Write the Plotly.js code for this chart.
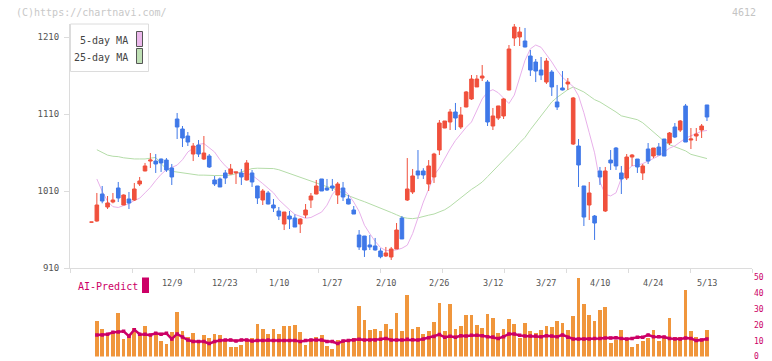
<!DOCTYPE html>
<html><head><meta charset="utf-8">
<script src="https://cdn.plot.ly/plotly-3.0.1.min.js"></script>
<style>html,body{margin:0;padding:0;background:#fff;}#chart{width:772px;height:361px;}</style>
</head><body><div id="chart"></div>
<script>
// ---- data ----
const openP  = [970,971.4,1006.5,989.6,996.1,1014.3,992.2,1000.0,998.7,1019.5,1036.4,1049.3,1049.3,1051.9,1050.6,1040.3,1103.9,1090.9,1081.8,1058.4,1070.1,1051.9,1055.8,1024.7,1026.0,1033.8,1032.5,1034.0,1033.8,1024.7,1033.8,1016.9,998.7,1007.8,992.2,984.4,967.5,977.9,975.3,967.5,979.2,998.7,1006.5,1026.0,1014.3,1016.9,1005.2,1014.3,1000.0,985.7,953.2,951.9,940.3,939.0,932.5,926.0,924.7,935.1,975.3,998.7,1009.1,1036.4,1036.4,1019.5,1028.6,1063.6,1092.2,1100.0,1113.0,1093.5,1119.5,1129.9,1145.5,1157.1,1151.9,1094.8,1105.2,1107.8,1141.6,1209.1,1210.4,1205.2,1185.7,1177.9,1167.5,1151.9,1164.9,1126.0,1144.2,1149.4,1071.4,1068.8,1016.9,992.2,977.9,1036.4,984.4,1050.6,1066.2,1033.8,1027.3,1054.5,1051.9,1033.8,1064.9,1055.8,1067.5,1077.9,1072.7,1093.5,1089.6,1120.8,1076.6,1081.8,1089.6,1122.1];
const highP  = [970,1007.8,1016.9,1003.9,1007.8,1022.1,1006.0,1009.1,1020.8,1028.6,1046.8,1059.7,1058.4,1052.5,1053.2,1045.5,1111.7,1094.8,1087.0,1072.7,1076.6,1081.8,1058.4,1029.9,1028.0,1037.7,1045.5,1035.1,1039.0,1050.6,1037.7,1017.0,1013.0,1010.4,1000.0,989.6,983.1,984.4,980.0,975.0,993.5,1007.8,1024.7,1026.0,1026.0,1026.0,1022.1,1022.1,1005.2,990.9,959.7,952.0,953.2,949.4,936.0,937.7,937.7,968.8,977.9,1053.2,1039.0,1063.6,1040.0,1050.6,1060.0,1102.6,1101.3,1116.9,1124.7,1119.5,1140.3,1161.0,1161.0,1174.0,1154.5,1118.2,1121.0,1131.0,1200.0,1227.3,1223.4,1222.1,1193.5,1181.8,1184.4,1183.1,1167.5,1148.1,1166.2,1157.1,1132.5,1077.9,1017.0,1022.1,979.2,1041.6,1041.6,1063.6,1067.5,1042.9,1058.4,1058.4,1051.9,1045.5,1072.7,1066.2,1072.7,1078.0,1087.0,1098.7,1102.6,1123.4,1092.2,1092.2,1097.4,1122.1];
const lowP   = [970,970.5,994.4,987.0,994.4,996.1,992.2,987.0,997.4,1016.9,1036.0,1040.3,1033.8,1035.1,1035.1,1018.2,1077.9,1067.5,1068.8,1049.3,1054.5,1050.6,1040.3,1016.9,1015.6,1019.5,1032.0,1019.5,1018.2,1024.0,1015.6,993.5,992.2,993.0,983.1,972.7,959.7,961.0,963.6,955.8,975.3,988.3,1006.0,1010.4,1010.4,1010.4,993.5,997.4,993.0,980.5,933.8,924.7,933.8,933.0,923.0,924.7,920.8,935.0,948.0,997.4,1006.5,1026.0,1026.0,1010.4,1020.8,1057.1,1092.0,1089.6,1089.6,1090.9,1119.0,1128.6,1145.5,1153.2,1094.8,1089.6,1102.6,1103.9,1141.0,1198.7,1198.7,1197.0,1159.7,1151.9,1154.5,1149.4,1133.8,1115.6,1141.0,1141.6,1070.1,1015.6,964.9,972.7,946.8,1018.2,983.1,1037.7,1037.7,1006.5,1024.7,1042.9,1033.8,1024.7,1045.5,1053.2,1057.1,1055.8,1070.1,1079.2,1087.0,1074.0,1064.9,1075.3,1079.2,1101.3];
const closeP = [970,992.2,997.4,994.8,998.7,1001.3,1005.2,994.8,1013.0,1023.4,1042.9,1050.6,1045.5,1046.8,1037.7,1028.6,1093.5,1079.2,1074.0,1068.8,1058.4,1059.7,1041.6,1019.5,1015.6,1027.3,1039.0,1035.1,1028.6,1046.8,1022.1,1001.3,1010.4,993.5,988.3,977.9,983.1,974.0,963.6,974.0,985.7,1003.9,1016.9,1010.4,1011.7,1014.3,1019.5,1002.6,993.5,980.5,937.7,933.8,937.7,933.8,925.0,929.9,935.1,959.7,948.1,1013.0,1029.9,1031.2,1031.2,1042.9,1058.4,1098.7,1101.3,1113.0,1105.2,1109.1,1139.0,1155.8,1155.8,1159.7,1100.0,1107.8,1120.8,1129.9,1194.8,1223.4,1216.9,1197.4,1167.5,1166.2,1161.0,1179.2,1145.5,1119.5,1141.6,1151.9,1131.2,1044.2,976.6,1007.8,968.8,1028.6,1036.4,1046.8,1042.9,1026.0,1054.5,1057.1,1041.6,1042.9,1049.3,1066.2,1057.1,1055.8,1085.7,1080.5,1101.3,1074.0,1077.9,1084.4,1094.8,1106.5];
// moving averages, from day 1 onward
const ma5  = [1026,1010,997,990,989,991,994,998,1001,1008,1015,1024,1032,1038,1041,1044,1051,1061,1066,1071,1072,1067,1061,1051,1043,1037,1034,1033,1033,1031,1026,1020,1014,1008,999,992,986,980,977,975,976,979,983,992,1006,1014,1012,1006,996,984,966,955,945,937,933,933,934,936,940,955,976,996,1013,1031,1040,1053,1065,1076,1085,1093,1100,1115,1130,1139,1142,1138,1131,1124,1135,1157,1180,1195,1200,1197,1188,1178,1167,1158,1152,1146,1134,1112,1086,1060,1022,1006,1004,1008,1027,1037,1043,1044,1046,1049,1052,1056,1061,1066,1069,1074,1079,1082,1085,1088,1089];
const ma25 = [1064,1060,1057,1055.5,1055,1053.5,1052.5,1052,1052,1052,1053,1054,1046,1039,1036,1035,1033.5,1032.5,1031.5,1031,1031,1030.5,1030.5,1030.5,1030.5,1031,1033,1035.5,1038,1039.5,1040,1040,1040,1039.5,1038,1035.5,1033.5,1030,1028.5,1026,1023.5,1021,1018,1016,1014,1011.5,1007,1004,1001.5,999,996.5,993.5,991,988.5,985.5,982.5,979.5,976.5,975,974.5,975.5,977.5,979,980.5,983,986,990.5,996,1002,1008,1012.5,1017,1022,1029,1036,1044,1050,1057,1065,1073,1080,1090,1099,1108,1118,1126,1132,1137,1142,1145.5,1142,1139,1134,1129,1126,1122,1118,1113,1108,1106,1104.5,1103,1099,1093,1088,1082,1075,1070.5,1067.5,1065,1062.5,1058,1056.5,1055,1052.5];
// volume and AI-Predict, from day 1 onward
const volume = [22.5,17.4,14.1,14.9,27.7,11.1,13.7,18.1,14.1,19.3,14.1,14.1,10.1,8.0,15.7,28.1,16.2,12.2,14.9,9.7,13.7,11.8,14.3,13.7,10.1,6.1,6.1,7.6,9.7,11.8,20.6,17.4,14.3,17.4,14.3,19.3,19.3,20.0,15.7,7.4,9.7,12.2,13.7,6.9,4.8,10.5,10.1,10.5,11.8,31.9,23.1,16.8,17.4,16.4,20.6,17.2,27.7,16.4,38.9,17.4,18.5,14.3,16.2,22.0,34.0,16.4,33.2,17.4,19.3,26.3,26.3,20.0,18.1,26.9,24.4,14.9,17.4,23.7,20.6,11.8,21.2,16.2,14.9,16.8,19.3,18.7,22.5,21.2,16.8,25.6,49.6,33.4,26.3,22.5,29.4,31.3,8.6,10.5,16.8,11.1,6.1,8.0,9.9,11.8,16.8,9.9,11.8,24.4,12.4,12.4,42.0,16.2,12.4,10.5,16.8];
const aiPredict = [13.7,13.7,14.1,15.3,15.5,16.0,12.9,17.0,14.1,14.1,13.7,14.7,14.1,14.7,11.1,14.3,12.4,10.5,9.5,9.5,9.5,8.2,9.5,10.1,10.5,10.5,9.9,10.5,10.5,9.9,10.1,10.1,10.5,10.1,10.1,10.1,10.1,10.1,9.5,10.1,10.5,10.5,10.5,9.5,9.5,8.2,9.9,10.1,10.5,10.9,10.5,10.5,10.5,10.9,11.5,10.5,10.5,10.5,10.9,10.7,10.5,11.1,11.9,12.7,13.9,12.2,12.8,12.2,13.2,13.0,13.4,13.4,13.2,12.6,12.4,11.4,12.6,14.3,14.3,13.4,13.0,13.0,13.0,12.6,13.2,13.0,12.6,13.7,12.2,11.1,11.1,11.1,11.1,11.4,11.5,11.8,11.8,11.9,11.4,11.1,11.5,12.2,12.2,13.7,12.6,12.6,12.4,11.4,11.1,11.1,11.8,11.5,10.1,10.5,11.1];
const dateLabels = ['12/9','12/23','1/10','1/27','2/10','2/26','3/12','3/27','4/10','4/24','5/13'];
const dateLabelDay = [15,25,35,45,55,65,75,85,95,105,115];
const priceTicks = [910,1010,1110,1210];
const volTicks = [0,10,20,30,40,50];

// ---- layout helpers ----
const W = 772, H = 361;
const px = x => x / W, py = y => 1 - y / H;
const X0 = 70, X1 = 752;           // plot left/right px
const day0 = 91.5, step = 5.352;   // px of day 0, px per day
const pxToDay = p => (p - day0) / step;
const xRange = [pxToDay(X0), pxToDay(X1)];
const yBot = 268.3, yTop = 24, perPx = 100 / 77;
const yRange = [910, 910 + (yBot - yTop) * perPx];

const days = closeP.map((_, i) => i);
const days1 = days.slice(1);

const FONT = 'DejaVu Sans Mono, monospace';
const RED = '#f0503c', BLUE = '#3f78e8', MAG = '#cc0066';

const traces = [
  {type:'scatter', mode:'lines', x:days1, y:ma25, line:{color:'#b4dca8', width:1}, hoverinfo:'skip'},
  {type:'scatter', mode:'lines', x:days1, y:ma5, line:{color:'#e8b0ea', width:1}, hoverinfo:'skip'},
  {type:'candlestick', x:days, open:openP, high:highP, low:lowP, close:closeP,
   xaxis:'x3', yaxis:'y3', whiskerwidth:0,
   increasing:{line:{color:RED, width:1}, fillcolor:RED},
   decreasing:{line:{color:BLUE, width:1}, fillcolor:BLUE}, hoverinfo:'skip'},
  {type:'bar', x:days1, y:volume, xaxis:'x2', yaxis:'y2', width:0.7,
   marker:{color:'#f0963c', line:{width:0}}, hoverinfo:'skip'},
  {type:'scatter', mode:'lines+markers', x:days1, y:aiPredict, xaxis:'x2', yaxis:'y2',
   line:{color:MAG, width:2.5}, marker:{color:MAG, size:3.5, symbol:'square'}, hoverinfo:'skip'}
];

const tickPx = [];
for (let k = 0; k <= 11; k++) tickPx.push(pxToDay(X0 + 62 * k));

const annotations = [
  {text:'(C)https://chartnavi.com/', xref:'paper', yref:'paper', x:px(14), y:py(12.7), xanchor:'left', yanchor:'middle', showarrow:false, font:{family:FONT, size:10, color:'#c8c8c8'}},
  {text:'4612', xref:'paper', yref:'paper', x:px(757.5), y:py(12.5), xanchor:'right', yanchor:'middle', showarrow:false, font:{family:FONT, size:10, color:'#c4c4c4'}},
  {text:'5-day MA', xref:'paper', yref:'paper', x:px(130), y:py(40.5), xanchor:'right', yanchor:'middle', showarrow:false, font:{family:FONT, size:10, color:'#444'}},
  {text:'25-day MA', xref:'paper', yref:'paper', x:px(130), y:py(57), xanchor:'right', yanchor:'middle', showarrow:false, font:{family:FONT, size:10, color:'#444'}},
  {text:'AI-Predict', xref:'paper', yref:'paper', x:px(75.5), y:py(286), xanchor:'left', yanchor:'middle', showarrow:false, font:{family:FONT, size:10, color:MAG}}
];
dateLabels.forEach((t, k) => annotations.push({
  text:t, xref:'x', yref:'paper', x:dateLabelDay[k], y:py(282.5), xanchor:'center', yanchor:'middle',
  showarrow:false, font:{family:FONT, size:8.5, color:'#555'}
}));

const shapes = [
  {type:'rect', xref:'paper', yref:'paper', x0:px(70.5), x1:px(148.5), y0:py(24), y1:py(71.5), line:{color:'#dcdcdc', width:1}, fillcolor:'#fff'},
  {type:'rect', xref:'paper', yref:'paper', x0:px(136.5), x1:px(142.5), y0:py(31.5), y1:py(46.5), line:{color:'#555', width:1}, fillcolor:'#ebb8eb'},
  {type:'rect', xref:'paper', yref:'paper', x0:px(136.5), x1:px(142.5), y0:py(48.5), y1:py(63.5), line:{color:'#555', width:1}, fillcolor:'#bfe0b5'},
  {type:'rect', xref:'paper', yref:'paper', x0:px(142), x1:px(149), y0:py(277.5), y1:py(293), line:{width:0}, fillcolor:MAG}
];

const layout = {
  width:W, height:H, autosize:false, margin:{l:0,r:0,t:0,b:0},
  paper_bgcolor:'#fff', plot_bgcolor:'rgba(0,0,0,0)', showlegend:false,
  boxgap:0.33, boxgroupgap:0,
  bargap:0,
  xaxis:{domain:[px(X0), px(X1)], range:xRange, showgrid:false, zeroline:false,
         showline:true, linecolor:'#dcdcdc', linewidth:1,
         tickmode:'array', tickvals:tickPx, ticktext:tickPx.map(() => ''), ticks:'outside', ticklen:4, tickcolor:'#dcdcdc', anchor:'y'},
  yaxis:{domain:[py(yBot), py(yTop)], range:yRange, showgrid:false, zeroline:false,
         showline:true, linecolor:'#dcdcdc', linewidth:1, anchor:'x',
         tickmode:'array', tickvals:priceTicks, ticktext:priceTicks.map(String),
         ticks:'outside', ticklen:5, tickcolor:'#dcdcdc', ticklabelstandoff:3,
         tickfont:{family:FONT, size:9, color:'#555'}},
  xaxis3:{overlaying:'x', range:xRange, visible:false, anchor:'y3'},
  yaxis3:{overlaying:'y', range:yRange, visible:false, anchor:'x3'},
  xaxis2:{domain:[px(X0), px(X1)], range:xRange, visible:false, anchor:'y2', rangeslider:{visible:false}},
  yaxis2:{domain:[py(356.6), py(277.4)], range:[0,50], showgrid:false, zeroline:false, showline:false,
          side:'right', anchor:'x2', tickmode:'array', tickvals:volTicks, ticktext:volTicks.map(String),
          ticks:'', ticklabelstandoff:1, ticklabeloverflow:'allow', tickfont:{family:FONT, size:8, color:MAG}},
  annotations:annotations, shapes:shapes
};
layout.xaxis.rangeslider = {visible:false};
layout.xaxis3.rangeslider = {visible:false};

Plotly.newPlot('chart', traces, layout, {staticPlot:true, displayModeBar:false});
</script></body></html>
